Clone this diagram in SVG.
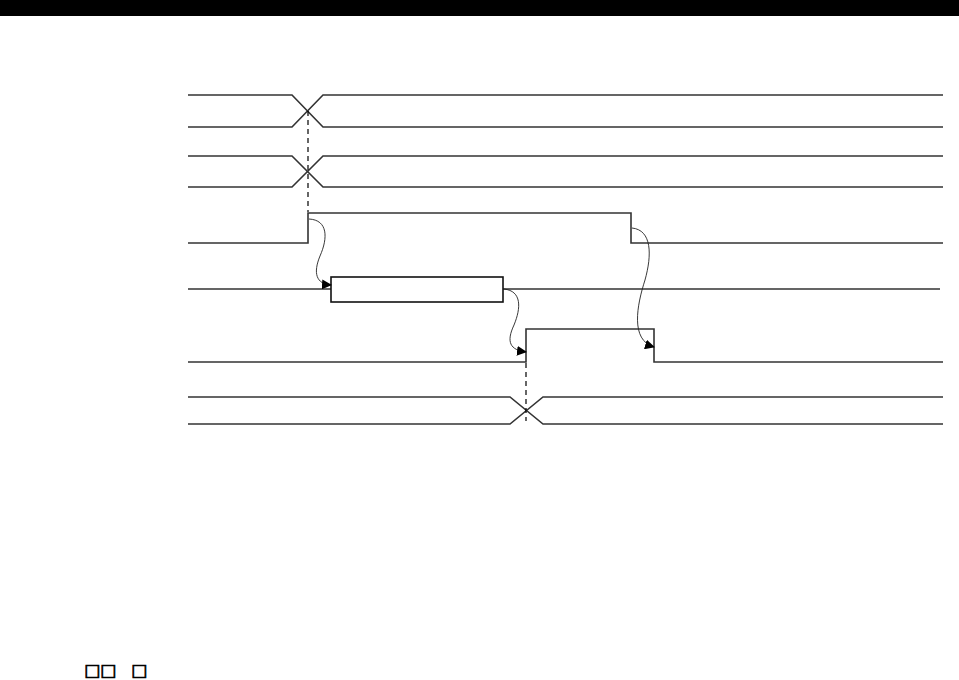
<svg xmlns="http://www.w3.org/2000/svg" width="959" height="680" viewBox="0 0 959 680">
<style>
.sig{fill:none;stroke:#333;stroke-width:1.6}
.box{fill:#fff;stroke:#111;stroke-width:1.6}
.dash{fill:none;stroke:#000;stroke-width:1.2;stroke-dasharray:5,4}
.arr{fill:none;stroke:#222;stroke-width:0.9;marker-end:url(#ah)}
.sq{font-family:"DejaVu Sans","Liberation Sans",sans-serif;font-size:17px;fill:#000;stroke:#000;stroke-width:0.7}
</style>
<defs>
<marker id="ah" viewBox="0 0 10 10" refX="9" refY="5" markerWidth="10" markerHeight="10" markerUnits="userSpaceOnUse" orient="auto">
<path d="M0,0 L10,5 L0,10 z" fill="#000"/>
</marker>
</defs>
<rect x="0" y="0" width="959" height="16" fill="#000"/>
<g id="sig1">
<path class="sig" d="M188,95 H292 L323,127 H943"/>
<path class="sig" d="M188,127 H292 L323,95 H943"/>
</g>
<g id="sig2">
<path class="sig" d="M188,156 H292 L323,187 H943"/>
<path class="sig" d="M188,187 H292 L323,156 H943"/>
</g>
<g id="sig3">
<path class="sig" d="M188,243 H308 V213 H631 V243 H943"/>
</g>
<g id="sig4">
<path class="sig" d="M188,289 H331 M503,289 H940"/>
<rect class="box" x="331" y="277" width="172" height="25"/>
</g>
<g id="sig5">
<path class="sig" d="M188,362 H526 V329 H654 V362 H943"/>
</g>
<g id="sig6">
<path class="sig" d="M188,397 H510 L543,424 H943"/>
<path class="sig" d="M188,424 H510 L543,397 H943"/>
</g>
<g id="connectors">
<path class="dash" d="M308,111 V212"/>
<path class="dash" d="M526,363 V421"/>
<path class="arr" d="M309,219 C328,220 328,238 320,256 C313,273 316,284 331,285"/>
<path class="arr" d="M504,289 C522,291 521,308 514,325 C506,342 510,350 526,352"/>
<path class="arr" d="M632,228 C652,230 652,255 645,280 C637,305 630,340 654,347"/>
</g>
<text class="sq" x="84 100 131" y="676">□□□</text>
</svg>
